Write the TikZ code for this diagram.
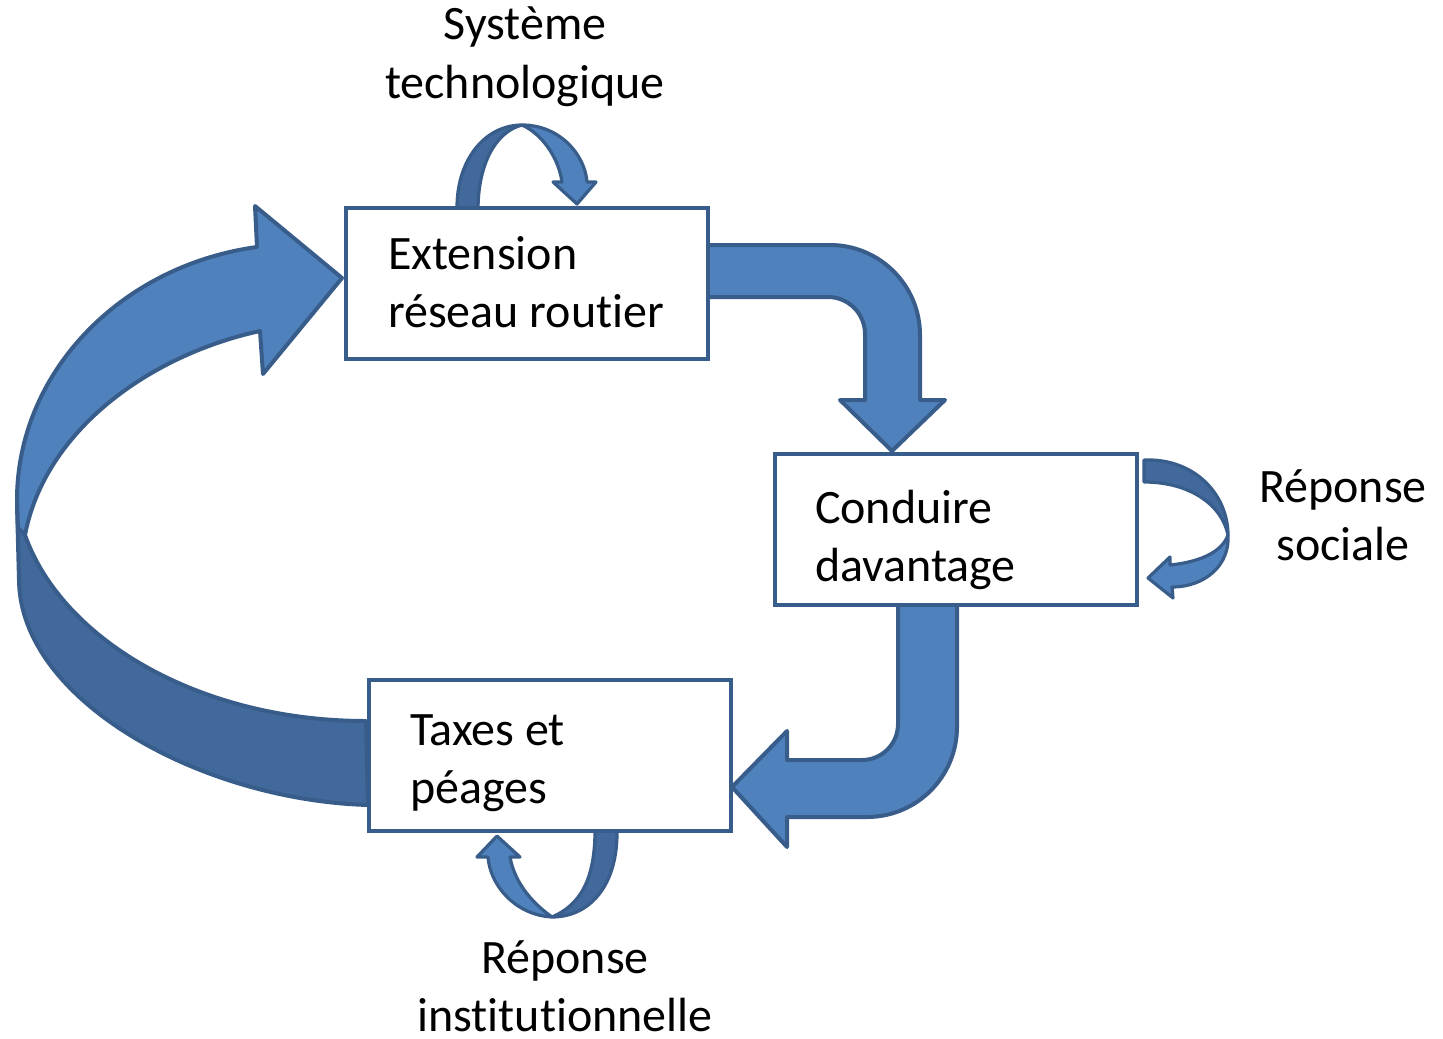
\documentclass[tikz,border=0pt]{standalone}
\usepackage{fontspec}
\setmainfont{Carlito}[Ligatures=NoCommon]
\definecolor{lightblue}{HTML}{4F81BD}
\definecolor{darkblue}{HTML}{41699B}
\definecolor{edgeblue}{HTML}{385D8A}
\newcommand\linesc[2]{\vtop{\halign{\hfil##\hfil\cr#1\cr#2\cr}}}
\newcommand\linesl[2]{\vtop{\halign{##\hfil\cr#1\cr#2\cr}}}
\begin{document}
\begin{tikzpicture}[x=0.5pt,y=-0.5pt,
  box/.style={draw=edgeblue, line width=2pt, fill=white, inner sep=0pt, outer sep=0pt,
    minimum width=181pt, minimum height=75.5pt},
  txt/.style={font=\fontsize{24}{29}\selectfont, inner sep=0pt, outer sep=0pt},
  front/.style={fill=lightblue, draw=edgeblue, line width=2pt, line join=round},
  back/.style={fill=darkblue, draw=edgeblue, line width=2pt, line join=round},
  sfront/.style={fill=lightblue, draw=edgeblue, line width=1.6pt, line join=round},
  sback/.style={fill=darkblue, draw=edgeblue, line width=1.6pt, line join=round}]
\useasboundingbox (0,0) rectangle (1443,1038);

% big curved arrow (Taxes -> Extension)
\path[back] (25,535) .. controls (62,640) and (200,721) .. (366,721) -- (368,805)
  .. controls (200,800) and (20,700) .. (19,580) -- (17,505) -- cycle;
\path[front] (257,247) .. controls (119,266) and (17,374) .. (17,500) -- (18,528) -- (25,535)
  .. controls (45,430) and (150,355) .. (260,331) -- (263,374) -- (342,278) -- (255,206) -- cycle;

% bent arrow Extension -> Conduire
\path[front] (705,245) -- (830,245) .. controls (879.7,245) and (920,285.3) .. (920,335)
  -- (920,400) -- (945,400) -- (892,451) -- (840,400) -- (865,400) -- (865,334)
  .. controls (865,313.6) and (848.4,297) .. (828,297) -- (705,297) -- cycle;

% bent arrow Conduire -> Taxes
\path[front] (957,603) -- (957,727) .. controls (957,776.7) and (916.7,817) .. (867,817)
  -- (787,817) -- (787,847) -- (732,787) -- (787,731) -- (787,760) -- (862,760)
  .. controls (881.9,760) and (898,743.9) .. (898,724) -- (898,603) -- cycle;

% self loop: Systeme technologique
\path[sback] (457,210) .. controls (456,160) and (485,125) .. (522,125)
  .. controls (495,132) and (478,165) .. (478,210) -- cycle;
\path[sfront] (522,125) .. controls (560,125) and (585,155) .. (587,182) -- (596,182)
  -- (577,204) -- (553,182) -- (562,182) .. controls (558,155) and (540,133) .. (522,125) -- cycle;

% self loop: Reponse sociale
\path[sback] (1144,460) .. controls (1195,458) and (1228,495) .. (1228,535)
  .. controls (1222,505) and (1190,482) .. (1144,482) -- cycle;
\path[sfront] (1228,535) .. controls (1230,565) and (1205,587) .. (1172,587) -- (1173,598)
  -- (1148,578) -- (1170,557) -- (1170,565) .. controls (1200,562) and (1222,552) .. (1228,535) -- cycle;

% self loop: Reponse institutionnelle
\path[sback] (617,830) .. controls (618,885) and (590,917) .. (552,917)
  .. controls (580,905) and (595,880) .. (595,830) -- cycle;
\path[sfront] (552,917) .. controls (515,915) and (490,885) .. (488,857) -- (477,857)
  -- (497,836) -- (520,857) -- (510,857) .. controls (515,885) and (535,905) .. (552,917) -- cycle;

% boxes
\node[box] (ext) at (527,283.5) {};
\node[box] (cond) at (955.5,529) {};
\node[box] (tax) at (549.5,755.5) {};

% box texts
\node[txt, anchor=base west] (extT) at (388,269) {\linesl{Extension}{réseau routier}};
\node[txt, anchor=base west] (condT) at (815,523) {\linesl{Conduire}{davantage}};
\node[txt, anchor=base west] (taxT) at (410,745) {\linesl{Taxes et}{péages}};

% outside labels
\node[txt, anchor=base] (sys) at (525,40) {\linesc{Système}{technologique}};
\node[txt, anchor=base] (soc) at (1343,502) {\linesc{Réponse}{sociale}};
\node[txt, anchor=base] (inst) at (565,973) {\linesc{Réponse}{institutionnelle}};
\end{tikzpicture}
\end{document}
